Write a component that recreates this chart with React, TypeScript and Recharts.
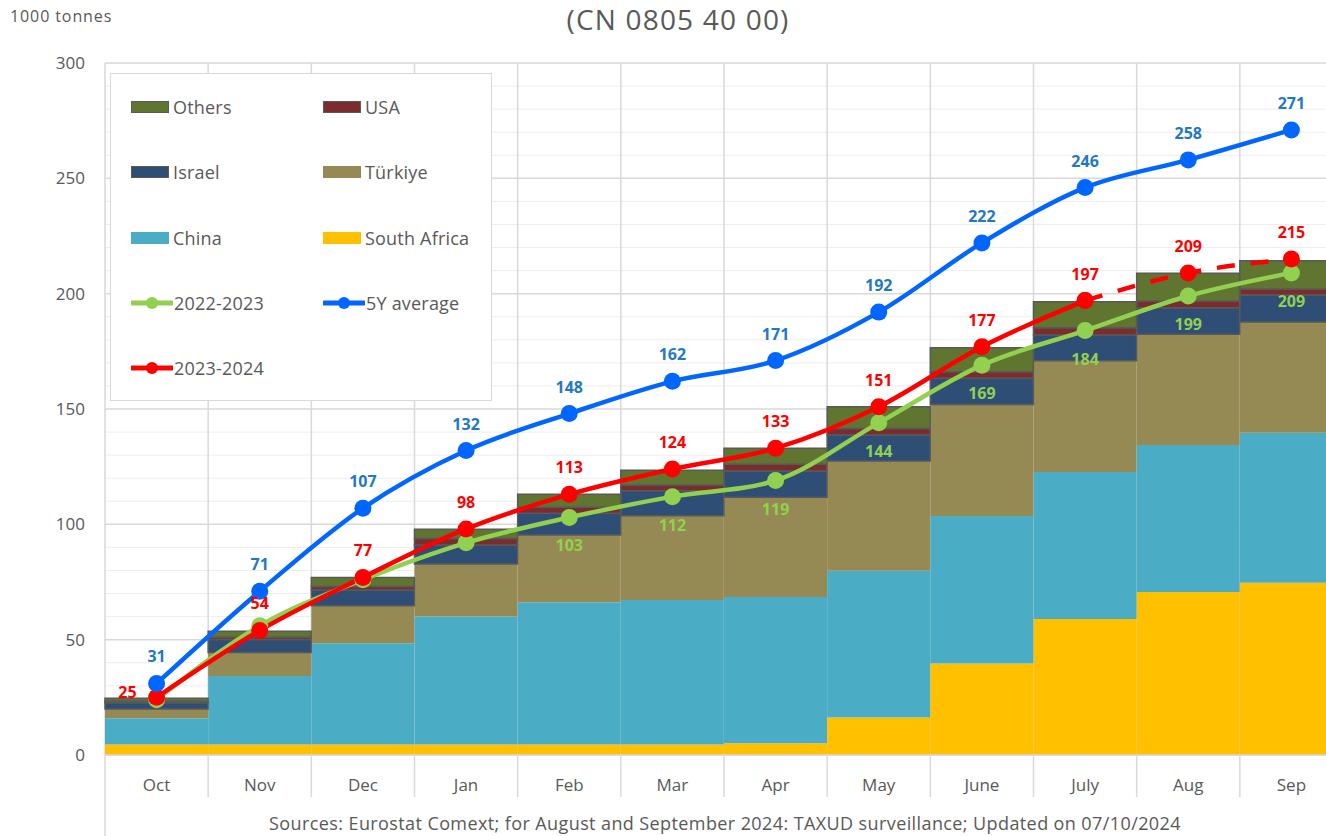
import React from 'react';
import { ComposedChart, Bar, Line, XAxis, YAxis, CartesianGrid, LabelList } from 'recharts';

const months = ['Oct', 'Nov', 'Dec', 'Jan', 'Feb', 'Mar', 'Apr', 'May', 'June', 'July', 'Aug', 'Sep'];
const southAfrica = [4.5, 4.5, 4.5, 4.5, 4.5, 4.5, 5.1, 16.3, 39.7, 59, 70.7, 74.7];
const china = [11.4, 29.7, 43.9, 55.5, 61.7, 62.7, 63.4, 63.6, 63.9, 63.7, 63.7, 65];
const turkiye = [4, 10.2, 16.3, 22.8, 29.2, 36.5, 43.2, 47.6, 48.3, 48.2, 48, 48];
const israel = [2.8, 5.7, 6.8, 8.2, 9.4, 10.9, 11.4, 11.2, 11.4, 11.2, 11.5, 11.7];
const usa = [0.6, 0.9, 1.5, 2.9, 2.6, 2.4, 2.9, 2.9, 2.9, 3.1, 2.9, 2.6];
const others = [1.3, 2.7, 4, 4, 5.6, 6.4, 7, 9.4, 10.4, 11.3, 12, 12.3];
const avg5y = [31, 71, 107, 132, 148, 162, 171, 192, 222, 246, 258, 271];
const season2223 = [24, 56, 76, 92, 103, 112, 119, 144, 169, 184, 199, 209];
const season2324 = [25, 54, 77, 98, 113, 124, 133, 151, 177, 197, 209, 215];
const lastFinalIndex = 9; // July: Aug & Sep come from surveillance (dashed)
const yTicks = [0, 50, 100, 150, 200, 250, 300];
const yMax = 300;
const minorTicks = [10, 20, 30, 40, 60, 70, 80, 90, 110, 120, 130, 140, 160, 170, 180, 190, 210, 220, 230, 240, 260, 270, 280, 290];

const data = months.map((m, i) => ({
  month: m,
  southAfrica: southAfrica[i],
  china: china[i],
  turkiye: turkiye[i],
  israel: israel[i],
  usa: usa[i],
  others: others[i],
  avg5y: avg5y[i],
  s2223: season2223[i],
  s2324: i <= lastFinalIndex ? season2324[i] : null,
  s2324est: i >= lastFinalIndex ? season2324[i] : null,
}));

const FONT = '"Open Sans", "Noto Sans", sans-serif';
const GREY = '#595959';
const CHART_W = 1343;
const PLOT_LEFT = 105;
const AXIS_Y = 755;
const BAND = (CHART_W - PLOT_LEFT) / months.length;

const C = {
  others: '#5f7530',
  usa: '#7b2d2d',
  israel: '#2e4e76',
  turkiye: '#958a53',
  china: '#4bacc6',
  southAfrica: '#ffc000',
  avg: '#0066ff',
  avgLabel: '#1f78c8',
  green: '#92d050',
  red: '#ff0000',
};

const makeLabel = (color: string, where: 'above' | 'below', skip: number[] = []) => (p: any) => {
  const { x, y, value, index } = p;
  if (value == null || skip.includes(index)) return null;
  let tx = x;
  let ty = where === 'above' ? y - 27 : y + 28;
  let anchor: any = 'middle';
  if (color === C.red && index === 0) {
    tx = x - 20;
    ty = y - 5;
    anchor = 'end';
  }
  return (
    <text x={tx} y={ty} textAnchor={anchor} dominantBaseline="central" fill={color} fontSize={16} fontWeight={700} fontFamily={FONT}>
      {value}
    </text>
  );
};

const MonthTick = (props: any) => {
  const { x, payload, index } = props;
  const left = x - BAND / 2;
  return (
    <g>
      <line x1={left} x2={left} y1={AXIS_Y} y2={index === 0 ? 836 : 797} stroke="#d9d9d9" strokeWidth={1.5} />
      <text x={x} y={784} textAnchor="middle" dominantBaseline="central" fill={GREY} fontSize={17} fontFamily={FONT}>
        {payload.value}
      </text>
    </g>
  );
};

const legendBars = [
  { name: 'Others', color: C.others, border: true },
  { name: 'USA', color: C.usa, border: true },
  { name: 'Israel', color: C.israel, border: true },
  { name: 'Türkiye', color: C.turkiye, border: false },
  { name: 'China', color: C.china, border: false },
  { name: 'South Africa', color: C.southAfrica, border: false },
];
const legendLines = [
  { name: '2022-2023', color: C.green },
  { name: '5Y average', color: C.avg },
  { name: '2023-2024', color: C.red },
];

function LegendBox() {
  const items: any[] = [...legendBars.map((b) => ({ ...b, kind: 'bar' })), ...legendLines.map((l) => ({ ...l, kind: 'line' }))];
  return (
    <div style={{ position: 'absolute', left: 110, top: 73, width: 380, height: 326, border: '1.5px solid #d9d9d9', background: '#fff', fontFamily: FONT }}>
      {items.map((it, i) => {
        const col = i % 2;
        const row = Math.floor(i / 2);
        const left = col === 0 ? 20 : 212;
        const top = 33 + row * 65.3;
        return (
          <div key={it.name} style={{ position: 'absolute', left, top: top - 13, height: 26, display: 'flex', alignItems: 'center', whiteSpace: 'nowrap' }}>
            {it.kind === 'bar' ? (
              <div style={{ width: 38, height: 12, background: it.color, border: it.border ? '1.5px solid #595959' : 'none', boxSizing: 'border-box', marginRight: 4 }} />
            ) : (
              <svg width={42} height={20} style={{ marginRight: 1 }}>
                <line x1={1} x2={41} y1={10} y2={10} stroke={it.color} strokeWidth={5} strokeLinecap="round" />
                <circle cx={21} cy={10} r={6} fill={it.color} />
              </svg>
            )}
            <span style={{ color: GREY, fontSize: 18, letterSpacing: 0.2 }}>{it.name}</span>
          </div>
        );
      })}
    </div>
  );
}

export default function App() {
  return (
    <div style={{ position: 'absolute', left: 0, top: 0, width: 1326, height: 836, overflow: 'hidden', background: '#fff' }}>
      <div style={{ position: 'absolute', left: 10, top: 4, lineHeight: '24px', fontFamily: FONT, fontSize: 16, letterSpacing: 0.9, color: GREY }}>1000 tonnes</div>
      <div style={{ position: 'absolute', left: 0, width: 1356, top: 0, textAlign: 'center', fontFamily: FONT, fontSize: 28, letterSpacing: 1.2, color: GREY }}>(CN 0805 40 00)</div>
      <ComposedChart width={CHART_W} height={836} data={data} margin={{ top: 63, right: 0, bottom: 36, left: 0 }} barCategoryGap={0} barGap={0}>
        <CartesianGrid
          vertical={false}
          stroke="#eeeeee"
          horizontalCoordinatesGenerator={({ offset }: any) => minorTicks.map((v) => offset.top + offset.height * (1 - v / yMax))}
        />
        <CartesianGrid
          stroke="#d9d9d9"
          strokeWidth={1.5}
          verticalCoordinatesGenerator={({ offset }: any) =>
            Array.from({ length: months.length + 1 }, (_, i) => offset.left + (i * offset.width) / months.length)
          }
        />
        <XAxis dataKey="month" height={45} axisLine={{ stroke: '#d9d9d9', strokeWidth: 1.5 }} tickLine={false} tick={<MonthTick />} interval={0} />
        <YAxis
          width={105}
          domain={[0, yMax]}
          ticks={yTicks}
          axisLine={false}
          tickLine={false}
          tickMargin={14}
          tick={{ fill: GREY, fontSize: 17, fontFamily: FONT }}
        />
        <Bar dataKey="southAfrica" stackId="a" fill={C.southAfrica} isAnimationActive={false} />
        <Bar dataKey="china" stackId="a" fill={C.china} isAnimationActive={false} />
        <Bar dataKey="turkiye" stackId="a" fill={C.turkiye} isAnimationActive={false} />
        <Bar dataKey="israel" stackId="a" fill={C.israel} stroke={GREY} strokeWidth={1.5} isAnimationActive={false} />
        <Bar dataKey="usa" stackId="a" fill={C.usa} stroke={GREY} strokeWidth={1.5} isAnimationActive={false} />
        <Bar dataKey="others" stackId="a" fill={C.others} stroke={GREY} strokeWidth={1.5} isAnimationActive={false} />
        <Line type="monotone" dataKey="s2223" stroke={C.green} strokeWidth={4.5} dot={{ r: 8.5, fill: C.green, stroke: 'none' }} activeDot={false} isAnimationActive={false}>
          <LabelList dataKey="s2223" content={makeLabel(C.green, 'below', [0, 1, 2, 3])} />
        </Line>
        <Line type="monotone" dataKey="s2324" stroke={C.red} strokeWidth={4.5} dot={{ r: 8.5, fill: C.red, stroke: 'none' }} activeDot={false} isAnimationActive={false}>
          <LabelList dataKey="s2324" content={makeLabel(C.red, 'above')} />
        </Line>
        <Line type="monotone" dataKey="s2324est" stroke={C.red} strokeWidth={4.5} strokeDasharray="18 16" dot={{ r: 8.5, fill: C.red, stroke: 'none', strokeDasharray: '0' }} activeDot={false} isAnimationActive={false}>
          <LabelList dataKey="s2324est" content={makeLabel(C.red, 'above', [lastFinalIndex])} />
        </Line>
        <Line type="monotone" dataKey="avg5y" stroke={C.avg} strokeWidth={4.5} dot={{ r: 8.5, fill: C.avg, stroke: 'none' }} activeDot={false} isAnimationActive={false}>
          <LabelList dataKey="avg5y" content={makeLabel(C.avgLabel, 'above')} />
        </Line>
      </ComposedChart>
      <LegendBox />
      <div style={{ position: 'absolute', left: 0, width: 1450, top: 811, lineHeight: '24px', textAlign: 'center', fontFamily: FONT, fontSize: 18, letterSpacing: 0.4, color: GREY }}>
        Sources: Eurostat Comext; for August and September 2024: TAXUD surveillance; Updated on 07/10/2024
      </div>
    </div>
  );
}
